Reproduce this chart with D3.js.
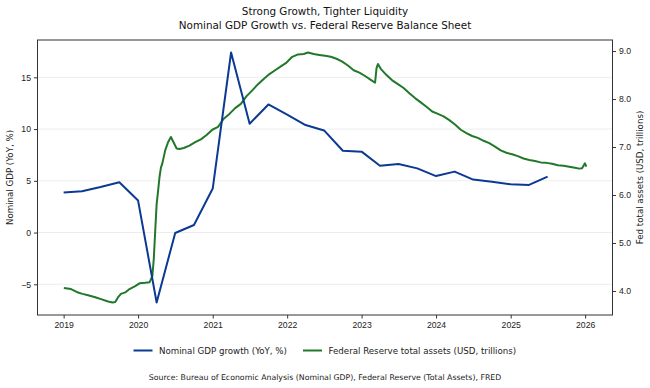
<!DOCTYPE html>
<html><head><meta charset="utf-8">
<script src="https://cdn.jsdelivr.net/npm/d3@7"></script>
<style>
body{margin:0;background:#fff;}
svg{font-family:"DejaVu Sans",sans-serif;}
</style></head>
<body><svg id="c" width="650" height="388"></svg>
<script>
// ---- Data ----
const gdpDates = ["2019-01-01","2019-04-01","2019-07-01","2019-10-01","2020-01-01","2020-04-01","2020-07-01","2020-10-01","2021-01-01","2021-04-01","2021-07-01","2021-10-01","2022-01-01","2022-04-01","2022-07-01","2022-10-01","2023-01-01","2023-04-01","2023-07-01","2023-10-01","2024-01-01","2024-04-01","2024-07-01","2024-10-01","2025-01-01","2025-04-01","2025-07-01"];
const gdpValues = [3.86,3.99,4.4,4.86,3.09,-6.76,-0.04,0.73,4.25,17.4,10.52,12.38,11.4,10.39,9.87,7.91,7.82,6.46,6.62,6.2,5.46,5.89,5.12,4.92,4.66,4.6,5.4];

const fedDates = ["2019-01-02","2019-02-06","2019-03-06","2019-04-03","2019-05-01","2019-06-05","2019-07-03","2019-08-07","2019-08-28","2019-09-11","2019-09-25","2019-10-09","2019-10-30","2019-11-20","2019-12-18","2020-01-08","2020-02-05","2020-02-26","2020-03-11","2020-03-18","2020-03-25","2020-04-01","2020-04-08","2020-04-15","2020-04-22","2020-04-29","2020-05-13","2020-05-27","2020-06-10","2020-06-24","2020-07-08","2020-07-22","2020-08-12","2020-09-09","2020-10-07","2020-11-04","2020-12-02","2020-12-30","2021-01-27","2021-02-24","2021-03-24","2021-04-21","2021-05-19","2021-06-16","2021-07-14","2021-08-11","2021-09-08","2021-10-06","2021-11-03","2021-12-01","2021-12-29","2022-01-26","2022-02-23","2022-03-23","2022-04-13","2022-05-11","2022-06-08","2022-07-06","2022-08-03","2022-08-31","2022-09-28","2022-10-26","2022-11-23","2022-12-21","2023-01-18","2023-02-15","2023-03-08","2023-03-15","2023-03-22","2023-04-05","2023-05-03","2023-05-31","2023-06-28","2023-07-26","2023-08-23","2023-09-20","2023-10-18","2023-11-15","2023-12-13","2024-01-10","2024-02-07","2024-03-06","2024-04-03","2024-05-01","2024-05-29","2024-06-26","2024-07-24","2024-08-21","2024-09-18","2024-10-16","2024-11-13","2024-12-11","2025-01-08","2025-02-05","2025-03-05","2025-04-02","2025-04-30","2025-05-28","2025-06-25","2025-07-23","2025-08-20","2025-09-17","2025-10-15","2025-11-12","2025-12-03","2025-12-17","2025-12-31","2026-01-07"];
const fedValues = [4.06,4.04,3.98,3.94,3.91,3.87,3.83,3.78,3.76,3.77,3.87,3.94,3.97,4.04,4.10,4.16,4.17,4.18,4.31,4.67,5.25,5.81,6.08,6.37,6.57,6.66,6.93,7.10,7.21,7.09,6.97,6.96,6.98,7.03,7.10,7.16,7.25,7.36,7.42,7.59,7.69,7.81,7.90,8.06,8.18,8.31,8.42,8.52,8.60,8.68,8.76,8.88,8.93,8.94,8.97,8.94,8.92,8.90,8.88,8.84,8.78,8.70,8.60,8.55,8.48,8.40,8.34,8.64,8.73,8.63,8.50,8.39,8.31,8.23,8.12,8.02,7.93,7.84,7.74,7.69,7.64,7.56,7.47,7.36,7.29,7.23,7.19,7.13,7.08,7.01,6.93,6.88,6.85,6.81,6.76,6.73,6.71,6.68,6.67,6.65,6.62,6.61,6.59,6.57,6.55,6.56,6.66,6.59];

const xTickYears = [2019,2020,2021,2022,2023,2024,2025,2026];
const leftTicks = [-5,0,5,10,15];
const rightTicks = [4.0,5.0,6.0,7.0,8.0,9.0];

const titleLines = ["Strong Growth, Tighter Liquidity","Nominal GDP Growth vs. Federal Reserve Balance Sheet"];
const legendLabels = ["Nominal GDP growth (YoY, %)","Federal Reserve total assets (USD, trillions)"];
const sourceText = "Source: Bureau of Economic Analysis (Nominal GDP), Federal Reserve (Total Assets), FRED";

// ---- Build ----
const parse = d3.utcParse("%Y-%m-%d");
const gdp = gdpDates.map((d,i)=>({date:parse(d), v:gdpValues[i]}));
const fed = fedDates.map((d,i)=>({date:parse(d), v:fedValues[i]}));

const L=37.5, R=612.5, T=40, B=315;
const FS = "8.67px";
const svg = d3.select("#c");

function padExt(ext, f=0.05){const s=ext[1]-ext[0];return [ext[0]-s*f, ext[1]+s*f];}
const allDates = gdp.concat(fed).map(d=>+d.date);
const xe = padExt(d3.extent(allDates));
const x = d3.scaleUtc().domain([new Date(xe[0]), new Date(xe[1])]).range([L,R]);
const yL = d3.scaleLinear().domain(padExt(d3.extent(gdpValues))).range([B,T]);
const yR = d3.scaleLinear().domain(padExt(d3.extent(fedValues))).range([B,T]);

const blue="#0b3a92", green="#22782a", axisCol="#333";

// grid
svg.append("g").selectAll("line").data(leftTicks).join("line")
  .attr("x1",L).attr("x2",R).attr("y1",d=>yL(d)).attr("y2",d=>yL(d))
  .attr("stroke","#ededed").attr("stroke-width",1);

// lines
svg.append("clipPath").attr("id","cp").append("rect").attr("x",L).attr("y",T).attr("width",R-L).attr("height",B-T);
svg.append("path").datum(fed).attr("clip-path","url(#cp)")
  .attr("d",d3.line().x(d=>x(d.date)).y(d=>yR(d.v)))
  .attr("fill","none").attr("stroke",green).attr("stroke-width",2).attr("stroke-linejoin","round");
svg.append("path").datum(gdp).attr("clip-path","url(#cp)")
  .attr("d",d3.line().x(d=>x(d.date)).y(d=>yL(d.v)))
  .attr("fill","none").attr("stroke",blue).attr("stroke-width",2).attr("stroke-linejoin","round");

// frame
svg.append("rect").attr("x",L).attr("y",T).attr("width",R-L).attr("height",B-T)
  .attr("fill","none").attr("stroke",axisCol).attr("stroke-width",1);

function styleAxis(g){
  g.select(".domain").remove();
  g.selectAll(".tick line").attr("stroke",axisCol);
  g.selectAll(".tick text").attr("fill","#222").style("font-size",FS);
}
svg.append("g").attr("transform",`translate(0,${B})`)
  .call(d3.axisBottom(x).tickValues(xTickYears.map(y=>new Date(Date.UTC(y,0,1)))).tickFormat(d3.utcFormat("%Y")).tickSize(3.5).tickPadding(3.5))
  .call(styleAxis);
svg.append("g").attr("transform",`translate(${L},0)`)
  .call(d3.axisLeft(yL).tickValues(leftTicks).tickFormat(d=>d<0?"\u2212"+Math.abs(d):d).tickSize(3.5).tickPadding(3))
  .call(styleAxis);
svg.append("g").attr("transform",`translate(${R},0)`)
  .call(d3.axisRight(yR).tickValues(rightTicks).tickFormat(d3.format(".1f")).tickSize(3.5).tickPadding(3))
  .call(styleAxis);

// axis labels
svg.append("text").attr("transform",`translate(13,${(T+B)/2}) rotate(-90)`).attr("text-anchor","middle")
  .style("font-size",FS).attr("fill","#222").text("Nominal GDP (YoY, %)");
svg.append("text").attr("transform",`translate(643,${(T+B)/2}) rotate(-90)`).attr("text-anchor","middle")
  .style("font-size",FS).attr("fill","#222").text("Fed total assets (USD, trillions)");

// title
svg.append("text").attr("x",325).attr("y",15).attr("text-anchor","middle").style("font-size","10.4px").attr("fill","#111").text(titleLines[0]);
svg.append("text").attr("x",325).attr("y",28.5).attr("text-anchor","middle").style("font-size","10.4px").attr("fill","#111").text(titleLines[1]);

// legend
const lg = svg.append("g");
const items = [{c:blue,t:legendLabels[0],x:133.5},{c:green,t:legendLabels[1],x:303}];
items.forEach(it=>{
  lg.append("line").attr("x1",it.x).attr("x2",it.x+19).attr("y1",350.5).attr("y2",350.5).attr("stroke",it.c).attr("stroke-width",2);
  lg.append("text").attr("x",it.x+25.5).attr("y",353.5).style("font-size",FS).attr("fill","#222").text(it.t);
});

// source
svg.append("text").attr("x",325).attr("y",380).attr("text-anchor","middle").style("font-size","7.8px").attr("fill","#222").text(sourceText);
</script></body></html>
